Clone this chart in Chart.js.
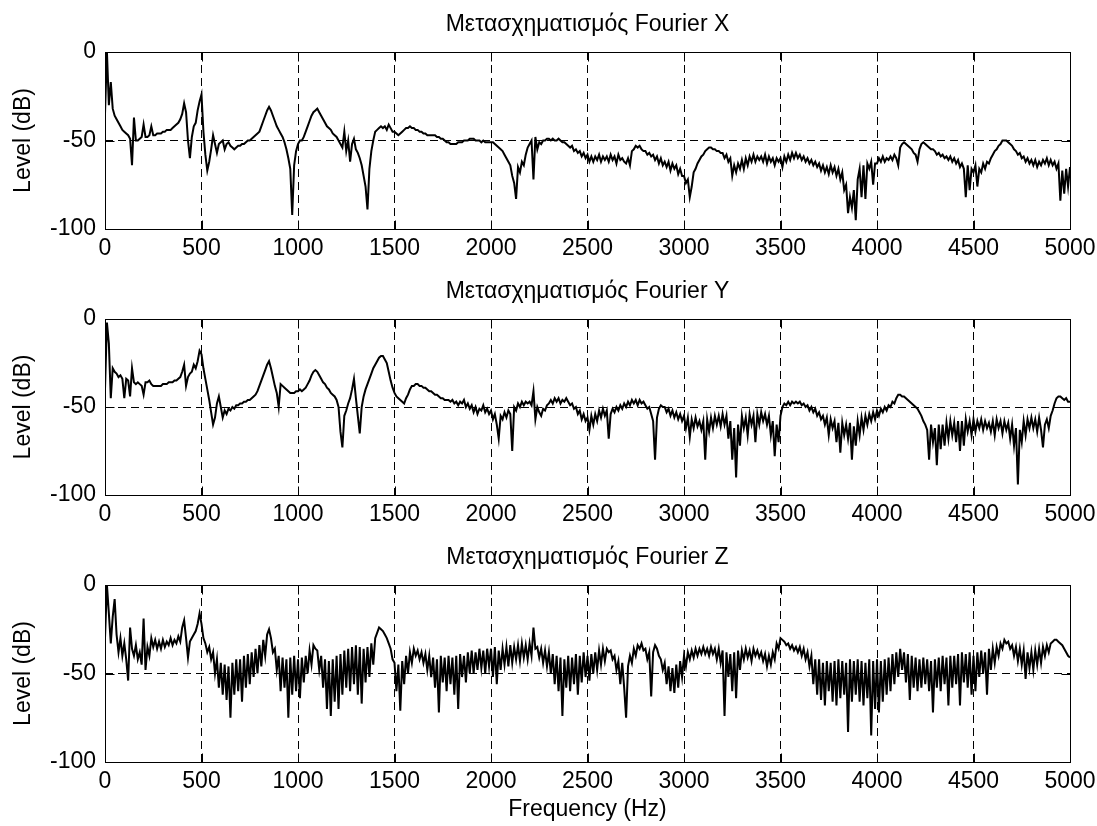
<!DOCTYPE html>
<html><head><meta charset="utf-8">
<script src="https://cdn.jsdelivr.net/npm/chart.js@4.4.0/dist/chart.umd.min.js"></script>
<style>
html,body{margin:0;padding:0;background:#fff;}
#wrap{position:relative;width:1097px;height:826px;background:#fff;}
canvas{position:absolute;left:0;}
</style></head><body>
<div id="wrap">
<canvas id="cX" width="1097" height="266" style="top:0px"></canvas>
<canvas id="cY" width="1097" height="266" style="top:266px"></canvas>
<canvas id="cZ" width="1097" height="294" style="top:532px"></canvas>
</div>
<script>
// sample spacing of the spectra (Hz)
const FREQ_STEP_HZ = 10;
const freqTicks = [0,500,1000,1500,2000,2500,3000,3500,4000,4500,5000];
const levelTicks = [0,-50,-100];
const titles = ['Μετασχηματισμός Fourier X','Μετασχηματισμός Fourier Y','Μετασχηματισμός Fourier Z'];
const yTitle = 'Level (dB)';
const xTitle = 'Frequency (Hz)';

// Level (dB) every 10 Hz, one row = 100 Hz
const levelX = [
-35,0,-30,-17,-32,-36,-38,-40,-42,-44,
-45,-46,-47,-49,-64,-37,-50,-50,-49,-48,
-41,-48,-48,-47,-42,-47,-47,-46,-46,-46,
-45,-45,-44,-44,-44,-43,-42,-41,-40,-38,
-35,-29,-34,-50,-60,-48,-42,-40,-33,-28,
-24,-45,-58,-67,-62,-55,-47,-52,-57,-52,
-51,-50,-55,-52,-51,-53,-54,-55,-54,-53,
-53,-52,-52,-51,-50,-50,-49,-48,-47,-46,
-45,-42,-39,-36,-33,-31,-33,-36,-39,-42,
-44,-46,-48,-51,-55,-60,-66,-92,-64,-56,
-52,-50,-50,-48,-45,-42,-39,-36,-34,-33,
-32,-34,-36,-38,-40,-42,-43,-44,-46,-47,
-48,-50,-52,-54,-45,-56,-50,-62,-52,-49,
-55,-57,-60,-64,-70,-76,-89,-66,-56,-50,
-45,-44,-43,-42,-43,-42,-44,-41,-43,-45,
-45,-46,-47,-46,-45,-44,-43,-43,-42,-43,
-43,-44,-44,-45,-45,-46,-46,-47,-47,-47,
-47,-47,-48,-48,-49,-49,-50,-51,-51,-52,
-52,-52,-52,-51,-51,-51,-50,-50,-50,-49,
-49,-49,-50,-50,-50,-51,-50,-51,-51,-51,
-51,-51,-52,-53,-54,-55,-56,-58,-60,-62,
-64,-70,-74,-83,-65,-68,-62,-64,-58,-54,
-52,-50,-72,-48,-55,-51,-52,-50,-50,-49,
-49,-50,-49,-50,-50,-49,-50,-51,-51,-52,
-53,-54,-53,-56,-55,-57,-56,-59,-57,-60,
-58,-62,-59,-62,-59,-61,-58,-62,-59,-61,
-59,-62,-58,-61,-59,-63,-58,-61,-60,-62,
-63,-60,-64,-56,-55,-53,-54,-53,-55,-56,
-56,-58,-57,-59,-58,-61,-59,-63,-60,-64,
-62,-65,-62,-67,-63,-66,-64,-69,-66,-70,
-70,-74,-72,-82,-76,-68,-66,-63,-61,-59,
-58,-56,-55,-54,-54,-55,-55,-56,-56,-57,
-57,-60,-58,-62,-60,-70,-64,-68,-63,-66,
-61,-66,-60,-64,-59,-62,-58,-62,-59,-61,
-59,-62,-58,-63,-59,-62,-60,-64,-60,-62,
-60,-65,-59,-62,-58,-61,-57,-60,-57,-60,
-58,-61,-59,-62,-60,-63,-61,-64,-62,-65,
-63,-67,-64,-68,-65,-69,-64,-68,-65,-70,
-66,-72,-68,-78,-75,-91,-82,-88,-78,-95,
-72,-66,-82,-64,-83,-63,-66,-62,-75,-63,
-63,-60,-62,-59,-62,-60,-61,-59,-61,-58,
-60,-64,-54,-52,-51,-52,-53,-54,-55,-57,
-58,-62,-55,-52,-51,-52,-53,-54,-55,-55,
-56,-58,-57,-59,-58,-60,-59,-61,-59,-62,
-60,-63,-61,-65,-63,-66,-82,-64,-78,-66,
-68,-64,-76,-66,-68,-63,-66,-62,-63,-60,
-58,-56,-55,-53,-52,-50,-50,-50,-51,-52,
-53,-55,-56,-58,-57,-60,-59,-62,-60,-63,
-61,-64,-61,-65,-62,-64,-61,-63,-60,-64,
-61,-64,-62,-66,-63,-84,-67,-80,-66,-76,
-65
];

const levelY = [
-40,-2,-14,-45,-28,-30,-31,-33,-32,-34,
-45,-34,-35,-44,-28,-36,-37,-36,-37,-38,
-43,-36,-36,-35,-37,-38,-38,-38,-38,-38,
-37,-37,-37,-36,-36,-36,-35,-35,-34,-33,
-30,-26,-38,-33,-31,-30,-26,-28,-24,-18,
-20,-28,-34,-40,-46,-53,-60,-56,-48,-44,
-50,-56,-52,-54,-51,-52,-50,-51,-49,-49,
-48,-48,-47,-47,-46,-46,-45,-44,-43,-41,
-38,-35,-32,-29,-26,-24,-28,-33,-38,-42,
-50,-37,-38,-39,-40,-41,-42,-42,-42,-41,
-41,-40,-41,-40,-39,-37,-35,-32,-30,-29,
-30,-32,-34,-36,-37,-39,-40,-42,-43,-44,
-46,-50,-64,-73,-55,-52,-48,-45,-40,-34,
-45,-55,-65,-50,-44,-40,-37,-34,-31,-28,
-26,-24,-22,-21,-21,-23,-25,-30,-35,-39,
-42,-44,-45,-46,-47,-48,-45,-43,-40,-38,
-38,-37,-37,-38,-38,-39,-39,-40,-41,-41,
-42,-43,-43,-44,-45,-45,-46,-46,-46,-47,
-46,-48,-47,-49,-47,-48,-46,-50,-48,-51,
-49,-53,-50,-54,-51,-52,-49,-53,-51,-54,
-52,-57,-54,-60,-68,-55,-57,-53,-56,-52,
-54,-75,-50,-52,-48,-50,-47,-49,-47,-48,
-47,-49,-41,-57,-50,-53,-55,-51,-52,-49,
-48,-46,-48,-45,-47,-45,-48,-46,-47,-45,
-47,-49,-48,-51,-50,-54,-52,-57,-54,-58,
-56,-63,-55,-60,-54,-58,-52,-56,-51,-55,
-52,-68,-54,-51,-53,-50,-52,-49,-51,-48,
-50,-47,-49,-46,-48,-46,-49,-46,-48,-47,
-49,-51,-50,-54,-58,-80,-56,-51,-49,-50,
-50,-53,-51,-55,-52,-56,-53,-57,-54,-58,
-55,-62,-56,-67,-57,-62,-56,-61,-58,-63,
-58,-80,-57,-64,-56,-62,-55,-60,-55,-61,
-54,-60,-55,-68,-58,-80,-62,-90,-60,-72,
-55,-62,-56,-66,-54,-60,-55,-70,-54,-60,
-53,-58,-54,-60,-55,-66,-58,-78,-60,-70,
-55,-50,-48,-49,-47,-49,-47,-48,-47,-48,
-47,-49,-48,-50,-49,-52,-50,-53,-51,-55,
-53,-57,-55,-60,-56,-66,-57,-62,-58,-70,
-59,-76,-59,-66,-60,-68,-59,-80,-61,-72,
-58,-66,-56,-63,-55,-60,-54,-58,-53,-57,
-52,-55,-51,-53,-50,-52,-49,-50,-47,-48,
-45,-43,-43,-44,-44,-45,-46,-47,-48,-49,
-50,-51,-53,-55,-58,-60,-63,-80,-60,-70,
-62,-83,-60,-74,-60,-72,-59,-68,-58,-66,
-59,-70,-58,-75,-58,-72,-57,-64,-58,-66,
-57,-64,-58,-62,-57,-63,-58,-62,-59,-64,
-58,-66,-57,-62,-58,-65,-58,-63,-59,-68,
-60,-72,-62,-94,-63,-70,-58,-66,-57,-62,
-56,-62,-57,-64,-56,-63,-73,-60,-57,-62,
-55,-52,-48,-45,-44,-44,-45,-46,-45,-47,
-47
];

const levelZ = [
-30,0,-16,-33,-18,-8,-28,-38,-30,-40,
-33,-42,-54,-24,-36,-40,-34,-42,-38,-45,
-19,-48,-35,-40,-30,-35,-31,-36,-32,-36,
-31,-35,-32,-34,-30,-34,-31,-33,-29,-32,
-24,-20,-30,-41,-32,-30,-28,-26,-22,-16,
-22,-30,-33,-38,-35,-42,-38,-50,-42,-58,
-44,-62,-45,-65,-46,-75,-44,-62,-42,-60,
-42,-66,-40,-58,-39,-56,-38,-52,-36,-50,
-34,-46,-31,-40,-28,-25,-30,-38,-36,-48,
-40,-60,-41,-58,-42,-75,-41,-62,-40,-60,
-42,-64,-41,-55,-40,-50,-37,-45,-34,-36,
-37,-48,-40,-58,-42,-70,-43,-74,-42,-66,
-40,-70,-39,-62,-37,-58,-36,-60,-35,-56,
-34,-62,-35,-67,-36,-55,-35,-52,-33,-45,
-30,-27,-24,-25,-26,-28,-30,-33,-36,-42,
-44,-60,-45,-71,-43,-56,-40,-50,-38,-44,
-36,-40,-37,-42,-38,-44,-39,-48,-40,-52,
-41,-58,-42,-72,-40,-55,-41,-60,-40,-56,
-41,-62,-40,-70,-39,-52,-40,-55,-38,-50,
-37,-50,-38,-48,-36,-47,-37,-50,-36,-46,
-36,-52,-35,-56,-37,-48,-36,-45,-35,-46,
-34,-44,-35,-42,-34,-43,-33,-41,-34,-42,
-33,-40,-24,-36,-35,-41,-36,-44,-37,-46,
-38,-50,-39,-56,-40,-60,-41,-74,-42,-58,
-40,-60,-41,-56,-39,-62,-40,-55,-38,-52,
-40,-54,-39,-50,-38,-48,-37,-45,-36,-43,
-36,-38,-37,-42,-40,-48,-43,-56,-44,-58,
-75,-46,-40,-44,-36,-40,-34,-36,-33,-37,
-36,-42,-38,-63,-38,-34,-36,-40,-42,-48,
-44,-56,-46,-60,-47,-61,-45,-58,-43,-52,
-40,-46,-38,-42,-37,-41,-36,-40,-36,-39,
-35,-39,-36,-40,-35,-39,-36,-42,-36,-44,
-37,-74,-38,-52,-39,-60,-38,-64,-37,-48,
-37,-42,-36,-41,-37,-43,-36,-40,-37,-41,
-38,-43,-39,-46,-40,-45,-38,-42,-33,-36,
-30,-31,-32,-34,-33,-36,-34,-37,-35,-38,
-35,-40,-36,-42,-38,-46,-40,-56,-42,-62,
-42,-65,-44,-68,-43,-60,-44,-66,-43,-68,
-42,-64,-43,-62,-44,-83,-42,-66,-43,-62,
-42,-66,-43,-68,-44,-64,-42,-85,-43,-70,
-42,-72,-43,-66,-42,-62,-41,-60,-39,-56,
-38,-52,-36,-48,-38,-55,-39,-65,-40,-58,
-41,-60,-42,-58,-41,-56,-42,-60,-43,-72,
-42,-58,-41,-60,-40,-56,-41,-68,-40,-58,
-40,-56,-39,-68,-38,-55,-39,-58,-38,-62,
-40,-60,-38,-52,-37,-50,-38,-62,-36,-48,
-36,-44,-35,-40,-33,-36,-31,-33,-32,-36,
-34,-40,-35,-43,-36,-45,-37,-53,-38,-47,
-38,-48,-37,-45,-36,-44,-35,-40,-34,-38,
-33,-32,-31,-31,-32,-33,-34,-36,-38,-40,
-41
];

const FONT = {family:"'Liberation Sans', Arial, sans-serif", size:23, weight:'normal'};
Chart.defaults.font.family = FONT.family;
Chart.defaults.font.size = FONT.size;
Chart.defaults.color = '#000';

const framePlugin = {
  id: 'frame',
  afterDraw(chart) {
    const {ctx, chartArea: a, scales: {x, y}} = chart;
    ctx.save();
    ctx.strokeStyle = '#000';
    ctx.lineWidth = 1;
    ctx.setLineDash([]);
    const l = Math.round(a.left) + 0.5, t = Math.round(a.top) + 0.5;
    const r = Math.round(a.right) + 0.5, b = Math.round(a.bottom) + 0.5;
    ctx.strokeRect(l, t, r - l, b - t);
    const L = 9;
    ctx.beginPath();
    freqTicks.forEach(v => {
      const px = Math.round(x.getPixelForValue(v)) + 0.5;
      ctx.moveTo(px, b); ctx.lineTo(px, b - L);
      ctx.moveTo(px, t); ctx.lineTo(px, t + L);
    });
    levelTicks.forEach(v => {
      const py = Math.round(y.getPixelForValue(v)) + 0.5;
      ctx.moveTo(l, py); ctx.lineTo(l + L, py);
      ctx.moveTo(r, py); ctx.lineTo(r - L, py);
    });
    ctx.stroke();
    ctx.restore();
  }
};

function makeChart(id, title, values, xAxisHeight, titleTop, showXTitle) {
  const pts = values.map((v, i) => ({x: i * FREQ_STEP_HZ, y: v}));
  return new Chart(document.getElementById(id), {
    type: 'line',
    data: {datasets: [{data: pts, borderColor: '#000', borderWidth: 2,
      pointRadius: 0, tension: 0, fill: false}]},
    options: {
      responsive: false, animation: false, parsing: false, normalized: true,
      layout: {padding: {left: 0, right: 27, top: 0, bottom: 0}},
      plugins: {legend: {display: false}, tooltip: {enabled: false}, title: {display: false}},
      scales: {
        x: {
          type: 'linear', min: 0, max: 5000, offset: false,
          afterBuildTicks: s => { s.ticks = freqTicks.map(v => ({value: v})); },
          ticks: {autoSkip: false, maxRotation: 0, padding: 6, font: FONT, color: '#000',
            callback: v => String(v)},
          grid: {drawTicks: false, lineWidth: 1,
            color: c => (c.tick && (c.tick.value === 0 || c.tick.value === 5000)) ? 'rgba(0,0,0,0)' : '#000'},
          border: {display: false, dash: [8, 5]},
          title: {display: showXTitle, text: xTitle, font: FONT, color: '#000', padding: {top: 0, bottom: 3}},
          afterFit: s => { s.height = xAxisHeight; s.paddingLeft = 0; s.paddingRight = 0; }
        },
        xTop: {
          type: 'linear', position: 'top', min: 0, max: 5000, offset: false,
          ticks: {display: false}, grid: {display: false}, border: {display: false},
          title: {display: true, text: title, font: FONT, color: '#000', padding: {top: titleTop, bottom: 0}},
          afterFit: s => { s.height = 52 + (titleTop - 11); s.paddingLeft = 0; s.paddingRight = 0; }
        },
        y: {
          type: 'linear', min: -100, max: 0,
          afterBuildTicks: s => { s.ticks = levelTicks.map(v => ({value: v})); },
          ticks: {padding: 9, font: FONT, color: '#000', callback: v => String(v)},
          grid: {drawTicks: false, lineWidth: 1,
            color: c => (c.tick && (c.tick.value === 0 || c.tick.value === -100)) ? 'rgba(0,0,0,0)' : '#000'},
          border: {display: false, dash: [8, 5]},
          title: {display: true, text: yTitle, font: FONT, color: '#000', padding: {top: 10, bottom: 0}},
          afterFit: s => { s.width = 105; s.paddingTop = 0; s.paddingBottom = 0; }
        }
      }
    },
    plugins: [framePlugin]
  });
}

makeChart('cX', titles[0], levelX, 37, 11, false);
makeChart('cY', titles[1], levelY, 37, 12, false);
makeChart('cZ', titles[2], levelZ, 64, 12, true);
</script>
</body></html>
